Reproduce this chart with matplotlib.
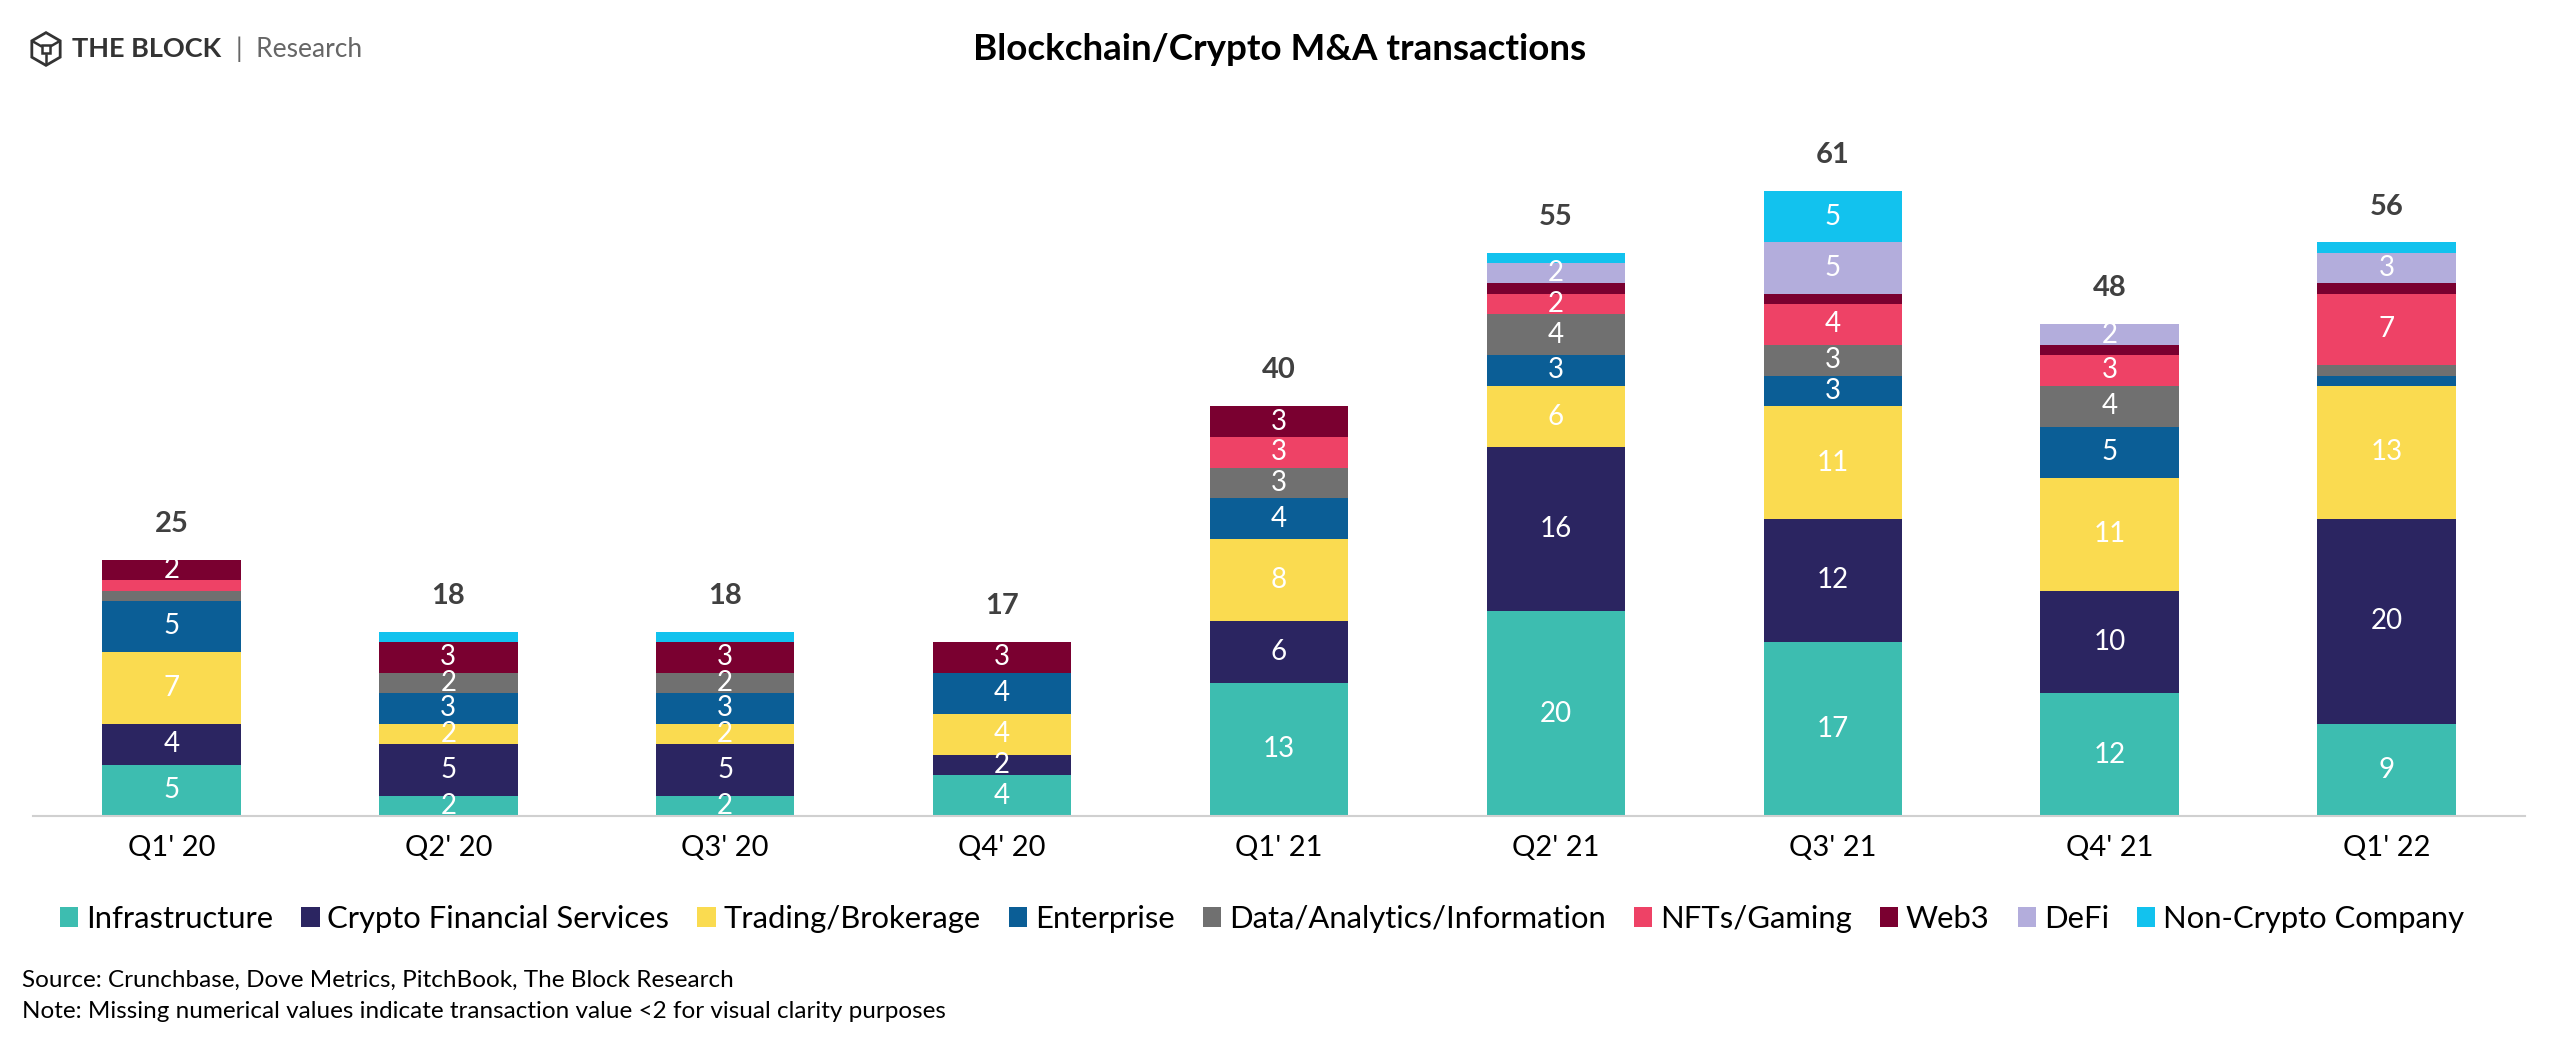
import matplotlib
matplotlib.use('Agg')
import matplotlib.pyplot as plt
from matplotlib.patches import RegularPolygon, Rectangle
import numpy as np

# quarters and categories (stack order bottom -> top)
quarters = ["Q1' 20", "Q2' 20", "Q3' 20", "Q4' 20", "Q1' 21", "Q2' 21", "Q3' 21", "Q4' 21", "Q1' 22"]
categories = ["Infrastructure", "Crypto Financial Services", "Trading/Brokerage", "Enterprise",
              "Data/Analytics/Information", "NFTs/Gaming", "Web3", "DeFi", "Non-Crypto Company"]

infrastructure = [5, 2, 2, 4, 13, 20, 17, 12, 9]
crypto_fin     = [4, 5, 5, 2, 6, 16, 12, 10, 20]
trading        = [7, 2, 2, 4, 8, 6, 11, 11, 13]
enterprise     = [5, 3, 3, 4, 4, 3, 3, 5, 1]
data_analytics = [1, 2, 2, 0, 3, 4, 3, 4, 1]
nfts_gaming    = [1, 0, 0, 0, 3, 2, 4, 3, 7]
web3           = [2, 3, 3, 3, 3, 1, 1, 1, 1]
defi           = [0, 0, 0, 0, 0, 2, 5, 2, 3]
non_crypto     = [0, 1, 1, 0, 0, 1, 5, 0, 1]

series = [infrastructure, crypto_fin, trading, enterprise, data_analytics,
          nfts_gaming, web3, defi, non_crypto]
colors = ['#3dbdb0', '#2b2561', '#fadb50', '#0b5e96', '#707070',
          '#ee4266', '#7a0030', '#b3addc', '#12c2ee']

plt.rcParams['font.family'] = ['Lato', 'DejaVu Sans']

fig = plt.figure(figsize=(25.6, 10.6), dpi=100)
ax = fig.add_axes([0.0129, 0.2302, 0.9734, 0.6764])

x = np.arange(len(quarters))
bottom = np.zeros(len(quarters))
for vals, col, name in zip(series, colors, categories):
    vals = np.array(vals, dtype=float)
    ax.bar(x, vals, 0.5, bottom=bottom, color=col, label=name, linewidth=0)
    for xi, v, b in zip(x, vals, bottom):
        if v >= 2:
            ax.text(xi, b + v / 2, f"{int(v)}", ha='center', va='center',
                    color='white', fontsize=20)
    bottom += vals

for xi, tot in zip(x, bottom):
    ax.text(xi, tot + 3.5, f"{int(tot)}", ha='center', va='center',
            color='#404040', fontsize=21, fontweight='bold')

ax.set_xlim(-0.5, 8.5)
ax.set_ylim(0, 70)
ax.set_xticks(x)
ax.set_xticklabels(quarters, fontsize=21)
ax.tick_params(axis='x', length=0, pad=14)
ax.set_yticks([])
for s in ['top', 'right', 'left']:
    ax.spines[s].set_visible(False)
ax.spines['bottom'].set_color('#d0d0d0')
ax.spines['bottom'].set_linewidth(1.5)

fig.legend(loc='center', bbox_to_anchor=(0.493, 0.133), ncol=9, frameon=False,
           fontsize=22.3, handlelength=0.6, handleheight=0.6, handletextpad=0.25,
           columnspacing=0.9)

fig.text(0.5, 0.953, "Blockchain/Crypto M&A transactions", ha='center', va='center',
         fontsize=26.5, fontweight='bold', color='black')

# logo: cube outline
lax = fig.add_axes([28 / 2560, 1 - 67 / 1060, 36 / 2560, 36 / 1060])
lax.set_xlim(-1.1, 1.1)
lax.set_ylim(-1.1, 1.1)
lax.set_aspect('equal')
lax.axis('off')
lax.add_patch(RegularPolygon((0, 0), 6, radius=1.0, orientation=0,
                             fill=False, edgecolor='#333333', linewidth=2))
lax.add_patch(Rectangle((-0.25, -0.25), 0.5, 0.5, fill=False,
                        edgecolor='#333333', linewidth=1.8))
for ang in [30, 150, 270]:
    a = np.deg2rad(ang)
    lax.plot([0.3 * np.cos(a) * 1.2, np.cos(a) * 0.87 / np.cos(np.deg2rad(0))],
             [0.3 * np.sin(a) * 1.2, np.sin(a) * 0.87], color='#333333', linewidth=1.8)

fig.text(72 / 2560, 1 - 49 / 1060, "THE BLOCK", ha='left', va='center',
         fontsize=19.5, fontweight='bold', color='#333333')
fig.text(236 / 2560, 1 - 49 / 1060, "|  Research", ha='left', va='center',
         fontsize=19, color='#666666')

fig.text(22 / 2560, 1 - 980 / 1060, "Source: Crunchbase, Dove Metrics, PitchBook, The Block Research",
         ha='left', va='center', fontsize=17.5, color='black')
fig.text(22 / 2560, 1 - 1011 / 1060, "Note: Missing numerical values indicate transaction value <2 for visual clarity purposes",
         ha='left', va='center', fontsize=17.5, color='black')

fig.savefig('out.png', dpi=100, facecolor='white')
